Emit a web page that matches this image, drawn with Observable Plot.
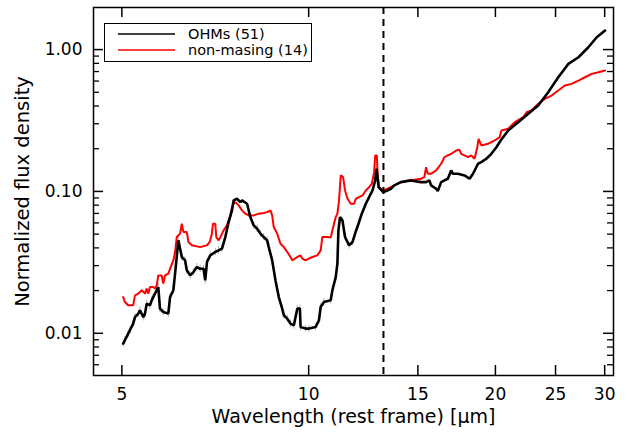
<!DOCTYPE html>
<html><head><meta charset="utf-8">
<script src="https://cdn.jsdelivr.net/npm/d3@7"></script>
<script src="https://cdn.jsdelivr.net/npm/@observablehq/plot@0.6"></script>
<style>
body{margin:0;background:#fff;}
#wrap{position:relative;width:627px;height:433px;}
#legend{position:absolute;left:104px;top:23px;}
</style></head><body><div id="wrap"></div>
<script>
// ---- data ----
const seriesNames = ["OHMs (51)", "non-masing (14)"];
const seriesColors = ["#000000", "#ff0000"];

const ohmsWl = [5.024,5.056,5.118,5.151,5.214,5.249,5.314,5.348,5.414,5.448,5.482,5.550,5.585,5.617,5.723,5.759,5.830,5.940,5.979,6.052,6.091,6.166,6.245,6.321,6.362,6.441,6.521,6.604,6.686,6.770,6.812,6.857,6.940,7.071,7.157,7.249,7.340,7.430,7.524,7.569,7.666,7.760,7.810,7.957,8.055,8.156,8.260,8.362,8.464,8.572,8.624,8.733,8.842,8.951,9.065,9.120,9.236,9.349,9.466,9.587,9.680,9.705,9.887,10.011,10.263,10.389,10.456,10.585,10.853,10.921,11.057,11.126,11.168,11.235,11.336,11.446,11.619,11.767,11.881,12.032,12.180,12.364,12.515,12.675,12.800,12.866,12.963,13.186,13.404,13.572,13.740,14.085,14.621,15.176,15.462,15.652,15.753,16.050,16.150,16.352,16.553,16.764,16.971,17.081,17.404,17.837,18.173,18.404,18.749,18.979,19.337,19.701,20.072,20.394,20.968,21.766,22.592,23.441,24.330,25.254,26.221,27.223,28.241,29.130,30.041];
const ohmsFlux = [0.00846,0.00893,0.00995,0.0105,0.0117,0.0130,0.01376,0.01452,0.0130,0.01376,0.01619,0.01575,0.01708,0.0180,0.0212,0.01492,0.01413,0.01376,0.0180,0.0201,0.0263,0.0452,0.0345,0.0327,0.0278,0.0256,0.0270,0.0293,0.0285,0.0285,0.0236,0.0318,0.0354,0.0374,0.0384,0.0395,0.0477,0.0608,0.0735,0.0864,0.0888,0.0841,0.0864,0.0819,0.0659,0.0576,0.0546,0.0504,0.0477,0.0452,0.0405,0.0327,0.0236,0.0180,0.01492,0.01339,0.01269,0.0117,0.01138,0.01492,0.01492,0.01108,0.01079,0.01079,0.01108,0.01235,0.01532,0.01661,0.01708,0.0201,0.0249,0.0310,0.0531,0.0659,0.0625,0.0477,0.0417,0.0440,0.0504,0.0592,0.0697,0.0819,0.0912,0.1016,0.1195,0.1445,0.1072,0.0989,0.1016,0.1045,0.1103,0.1163,0.1195,0.1163,0.1163,0.1195,0.1103,0.1045,0.1005,0.1163,0.1195,0.1229,0.1406,0.1332,0.1332,0.1297,0.1229,0.1332,0.1567,0.1608,0.1699,0.1842,0.2051,0.2287,0.2690,0.3076,0.3525,0.4033,0.5004,0.6381,0.7930,0.8827,1.0380,1.2210,1.3612];

const nonWl = [5.024,5.056,5.118,5.214,5.249,5.314,5.381,5.448,5.482,5.515,5.550,5.617,5.653,5.690,5.723,5.796,5.830,5.869,5.940,5.979,6.052,6.091,6.129,6.206,6.245,6.283,6.362,6.401,6.482,6.686,6.857,6.923,6.940,6.983,7.010,7.071,7.097,7.157,7.204,7.293,7.385,7.478,7.524,7.569,7.617,7.712,7.810,7.906,8.005,8.156,8.309,8.464,8.572,8.679,8.733,8.786,8.897,9.008,9.120,9.236,9.349,9.410,9.587,9.705,9.768,9.887,10.011,10.139,10.327,10.456,10.521,10.719,10.853,10.921,10.986,11.057,11.126,11.194,11.266,11.363,11.446,11.551,11.692,11.838,11.912,12.060,12.214,12.364,12.515,12.643,12.751,12.800,12.881,12.914,12.992,13.186,13.404,13.740,14.085,14.443,14.806,15.176,15.363,15.462,15.559,15.753,16.050,16.352,16.553,16.764,16.971,17.291,17.507,17.616,17.837,18.064,18.286,18.511,18.699,18.789,18.979,19.456,19.941,20.318,20.450,20.968,21.491,22.174,22.447,22.868,23.441,24.025,24.634,25.254,25.883,26.535,27.223,27.884,28.594,29.313,30.041];
const nonFlux = [0.0180,0.01661,0.01575,0.01575,0.01852,0.01904,0.0201,0.01904,0.02065,0.01904,0.02119,0.02119,0.02065,0.02178,0.0256,0.0256,0.02239,0.0256,0.0263,0.02855,0.0327,0.03737,0.0477,0.0504,0.0592,0.0517,0.0517,0.0440,0.0417,0.0405,0.0417,0.0440,0.0452,0.0504,0.0592,0.0592,0.0477,0.0452,0.0474,0.0531,0.0576,0.0678,0.0775,0.0819,0.0841,0.0797,0.0735,0.0697,0.0678,0.0678,0.0697,0.0704,0.0715,0.0735,0.0678,0.0561,0.0504,0.0428,0.0405,0.0374,0.0345,0.0327,0.0345,0.0354,0.0336,0.0327,0.0336,0.0345,0.0354,0.0384,0.0477,0.0477,0.0474,0.0531,0.0592,0.0659,0.0697,0.0864,0.1297,0.1261,0.1016,0.0888,0.0819,0.0819,0.0888,0.0912,0.0937,0.1016,0.1072,0.1133,0.1367,0.1793,0.1793,0.1332,0.1072,0.1016,0.1045,0.1103,0.1163,0.1195,0.1209,0.1229,0.1261,0.1483,0.1332,0.1332,0.1406,0.1567,0.1744,0.1793,0.1842,0.1944,0.1966,0.1842,0.1793,0.1744,0.1793,0.1699,0.2051,0.2350,0.2108,0.2167,0.2287,0.2412,0.2690,0.2764,0.3076,0.3337,0.3618,0.3719,0.4146,0.4496,0.4743,0.5143,0.5578,0.5734,0.6049,0.6381,0.6744,0.6920,0.7113];

const dividerWl = [13.2];
const xTicks = [5, 10, 15, 20, 25, 30];
const yMajor = [0.01, 0.1, 1];
const yMinor = [0.006,0.007,0.008,0.009,0.02,0.03,0.04,0.05,0.06,0.07,0.08,0.09,0.2,0.3,0.4,0.5,0.6,0.7,0.8,0.9];
const xLabel = "Wavelength (rest frame) [µm]";
const yLabel = "Normalized flux density";

// ---- build ----
const ohms = ohmsWl.map((w, i) => ({wl: w, f: ohmsFlux[i]}));
const non = nonWl.map((w, i) => ({wl: w, f: nonFlux[i]}));

const W = 627, H = 433, ML = 93, MR = 14, MT = 7, MB = 58;
const innerW = W - ML - MR, innerH = H - MT - MB;
const font = "DejaVu Sans";

const chart = Plot.plot({
  width: W, height: H,
  marginLeft: ML, marginRight: MR, marginTop: MT, marginBottom: MB,
  style: {fontFamily: font, fontSize: "17px", color: "#000", background: "#fff", overflow: "visible"},
  x: {type: "log", domain: [4.5, 31]},
  y: {type: "log", domain: [0.00504, 1.98]},
  marks: [
    Plot.ruleX(ohms.filter(d => d.f < 0.06), {x: "wl", y1: d => d.f * 0.94, y2: d => d.f * 1.06, stroke: "#b4b4b4", strokeWidth: 1}),
    Plot.line(non, {x: "wl", y: "f", stroke: seriesColors[1], strokeWidth: 2, strokeLinejoin: "miter"}),
    Plot.line(ohms, {x: "wl", y: "f", stroke: seriesColors[0], strokeWidth: 2.6, strokeLinejoin: "miter"}),
    Plot.ruleX(dividerWl, {x: d => d, stroke: "#000", strokeWidth: 2, strokeDasharray: "7,5"}),
    Plot.tickY(yMajor, {y: d => d, insetRight: innerW - 10, strokeWidth: 1.5}),
    Plot.tickY(yMajor, {y: d => d, insetLeft: innerW - 10, strokeWidth: 1.5}),
    Plot.tickY(yMinor, {y: d => d, insetRight: innerW - 6, strokeWidth: 1.3}),
    Plot.tickY(yMinor, {y: d => d, insetLeft: innerW - 6, strokeWidth: 1.3}),
    Plot.tickX(xTicks, {x: d => d, insetTop: innerH - 10, strokeWidth: 1.5}),
    Plot.tickX(xTicks, {x: d => d, insetBottom: innerH - 10, strokeWidth: 1.5}),
    Plot.axisY(yMajor, {tickSize: 0, tickPadding: 11, tickFormat: d => d.toFixed(2), fontSize: 17, label: null}),
    Plot.axisX(xTicks, {tickSize: 0, tickPadding: 12, tickFormat: d => String(d), fontSize: 17, label: null}),
    Plot.text([yLabel], {text: d => d, frameAnchor: "left", dx: -71, rotate: -90, fontSize: 19.5, textAnchor: "middle"}),
    Plot.text([xLabel], {text: d => d, frameAnchor: "bottom", dy: 47, fontSize: 19, textAnchor: "middle"}),
    Plot.frame({stroke: "#000", strokeWidth: 1.5})
  ]
});

const wrap = document.getElementById("wrap");
wrap.appendChild(chart);

// legend (inside the frame, top-left)
const lg = d3.select(wrap).append("div").attr("id", "legend")
  .append("svg").attr("width", 209).attr("height", 40)
  .style("font-family", font).style("font-size", "14.5px");
lg.append("rect").attr("x", 0.5).attr("y", 0.5).attr("width", 207).attr("height", 38)
  .attr("fill", "#fff").attr("stroke", "#000").attr("stroke-width", 1);
seriesNames.forEach((name, i) => {
  const yy = 11 + i * 16;
  lg.append("line").attr("x1", 14).attr("x2", 71).attr("y1", yy).attr("y2", yy)
    .attr("stroke", seriesColors[i]).attr("stroke-width", 1.5);
  lg.append("text").attr("x", 84).attr("y", yy).attr("dy", "0.35em").text(name);
});
</script></body></html>
